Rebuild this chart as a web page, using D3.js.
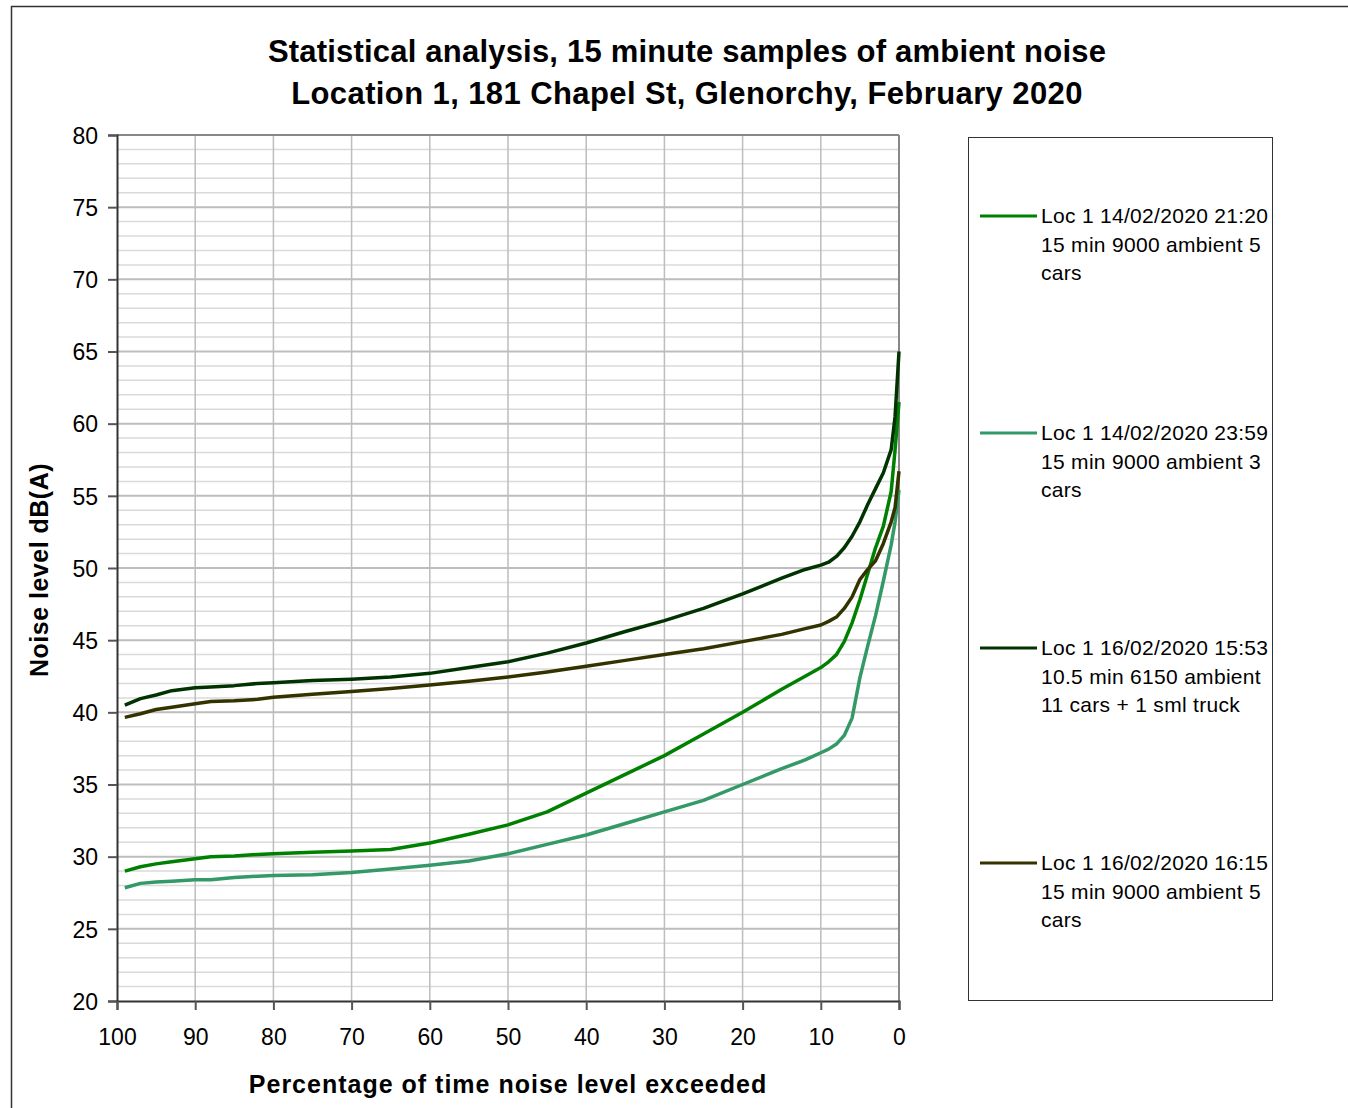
<!DOCTYPE html>
<html>
<head>
<meta charset="utf-8">
<script src="https://cdn.jsdelivr.net/npm/d3@7"></script>
<style>
  body { margin: 0; background: #fff; }
  svg { display: block; font-family: "Liberation Sans", Arial, sans-serif; }
</style>
</head>
<body>
<div id="chart"></div>
<script>
// percentage of time level exceeded
const pct = [99, 97, 95, 93, 90, 88, 85, 82, 80, 75, 70, 65, 60, 55, 50, 45, 40, 35, 30, 25, 20, 15, 12, 10, 9, 8, 7, 6, 5, 4, 3, 2, 1, 0.5, 0];

const loc1_2120 = [29.0, 29.3, 29.5, 29.65, 29.85, 30.0, 30.05, 30.15, 30.2, 30.3, 30.4, 30.5, 30.95, 31.55, 32.2, 33.1, 34.4, 35.7, 37.0, 38.5, 40.0, 41.6, 42.5, 43.1, 43.5, 44.0, 44.9, 46.2, 47.8, 49.6, 51.4, 52.9, 55.3, 58.2, 61.5];
const loc1_2359 = [27.85, 28.15, 28.25, 28.3, 28.4, 28.4, 28.55, 28.65, 28.7, 28.75, 28.9, 29.15, 29.4, 29.7, 30.2, 30.85, 31.5, 32.3, 33.1, 33.9, 35.0, 36.1, 36.7, 37.2, 37.45, 37.8, 38.4, 39.6, 42.4, 44.6, 46.7, 49.1, 51.6, 53.2, 55.4];
const loc1_1553 = [40.5, 40.95, 41.2, 41.5, 41.7, 41.75, 41.85, 42.0, 42.05, 42.2, 42.3, 42.45, 42.7, 43.1, 43.5, 44.1, 44.8, 45.6, 46.35, 47.2, 48.2, 49.3, 49.9, 50.2, 50.4, 50.8, 51.4, 52.2, 53.2, 54.4, 55.5, 56.6, 58.2, 60.5, 65.0];
const loc1_1615 = [39.65, 39.9, 40.2, 40.35, 40.6, 40.75, 40.8, 40.9, 41.05, 41.25, 41.45, 41.65, 41.9, 42.15, 42.45, 42.8, 43.2, 43.6, 44.0, 44.4, 44.9, 45.4, 45.8, 46.05, 46.3, 46.6, 47.2, 48.0, 49.2, 49.9, 50.5, 51.7, 53.2, 54.2, 56.7];

const seriesNames = [
  ["Loc 1 14/02/2020 21:20", "15 min 9000 ambient 5", "cars"],
  ["Loc 1 14/02/2020 23:59", "15 min 9000 ambient 3", "cars"],
  ["Loc 1 16/02/2020 15:53", "10.5 min 6150 ambient", "11 cars + 1 sml truck"],
  ["Loc 1 16/02/2020 16:15", "15 min 9000 ambient 5", "cars"]
];
const seriesColors = ["#008000", "#339966", "#003300", "#333300"];
const seriesValues = [loc1_2120, loc1_2359, loc1_1553, loc1_1615];

const xTicks = [100, 90, 80, 70, 60, 50, 40, 30, 20, 10, 0];
const yTicks = [20, 25, 30, 35, 40, 45, 50, 55, 60, 65, 70, 75, 80];

const W = 1348, H = 1108;
const svg = d3.select("#chart").append("svg")
  .attr("width", W).attr("height", H);

svg.append("rect")
  .attr("x", 11.5).attr("y", 6.5)
  .attr("width", W + 20).attr("height", H + 20)
  .attr("fill", "none").attr("stroke", "#333").attr("stroke-width", 1.5);

const plot = {left: 117, right: 899, top: 135, bottom: 1001};

const x = d3.scaleLinear().domain([100, 0]).range([plot.left, plot.right]);
const y = d3.scaleLinear().domain([20, 80]).range([plot.bottom, plot.top]);

// grid
const grid = svg.append("g");
grid.selectAll(".minor").data(d3.range(21, 80)).join("line")
  .attr("x1", plot.left).attr("x2", plot.right)
  .attr("y1", d => y(d)).attr("y2", d => y(d))
  .attr("stroke", d => d % 5 === 0 ? "#bdbdbd" : "#dadada")
  .attr("stroke-width", d => d % 5 === 0 ? 2 : 1.5);
grid.selectAll(".vert").data(xTicks.slice(1, -1)).join("line")
  .attr("x1", d => x(d)).attr("x2", d => x(d))
  .attr("y1", plot.top).attr("y2", plot.bottom)
  .attr("stroke", "#bdbdbd").attr("stroke-width", 1.5);
// top and right edges
grid.append("line")
  .attr("x1", plot.left).attr("x2", plot.right)
  .attr("y1", y(80)).attr("y2", y(80))
  .attr("stroke", "#888").attr("stroke-width", 2);
grid.append("line")
  .attr("x1", x(0)).attr("x2", x(0))
  .attr("y1", plot.top).attr("y2", plot.bottom)
  .attr("stroke", "#888").attr("stroke-width", 2);

// axes
const yAxis = svg.append("g")
  .attr("transform", `translate(${plot.left},0)`)
  .call(d3.axisLeft(y).tickValues(yTicks).tickSize(9).tickPadding(10));
const xAxis = svg.append("g")
  .attr("transform", `translate(0,${plot.bottom})`)
  .call(d3.axisBottom(x).tickValues(xTicks).tickSize(9).tickPadding(19));
[yAxis, xAxis].forEach(a => {
  a.select(".domain").attr("stroke", "#333").attr("stroke-width", 2);
  a.selectAll(".tick line").attr("stroke", "#555").attr("stroke-width", 2);
  a.selectAll(".tick text").attr("fill", "#000")
    .style("font-size", "23px").style("font-family", "'Liberation Sans', Arial, sans-serif");
});
yAxis.selectAll(".tick text").attr("dy", "0.36em");

// lines
const line = d3.line()
  .x((d, i) => x(pct[i]))
  .y(d => y(d));
svg.append("g").selectAll("path").data(seriesValues).join("path")
  .attr("d", d => line(d))
  .attr("fill", "none")
  .attr("stroke", (d, i) => seriesColors[i])
  .attr("stroke-width", 3.5)
  .attr("stroke-linejoin", "round");

// titles
svg.append("text")
  .attr("x", 687).attr("y", 62)
  .attr("text-anchor", "middle")
  .style("font-size", "31px").style("font-weight", "bold")
  .style("letter-spacing", "0.2px")
  .text("Statistical analysis, 15 minute samples of ambient noise");
svg.append("text")
  .attr("x", 687).attr("y", 104)
  .attr("text-anchor", "middle")
  .style("font-size", "31px").style("font-weight", "bold")
  .style("letter-spacing", "0.4px")
  .text("Location 1, 181 Chapel St, Glenorchy, February 2020");

svg.append("text")
  .attr("x", 508).attr("y", 1093)
  .attr("text-anchor", "middle")
  .style("font-size", "25px").style("font-weight", "bold")
  .style("letter-spacing", "1px")
  .text("Percentage of time noise level exceeded");

svg.append("text")
  .attr("transform", `translate(48,570) rotate(-90)`)
  .attr("text-anchor", "middle")
  .style("font-size", "25px").style("font-weight", "bold")
  .style("letter-spacing", "0.5px")
  .text("Noise level dB(A)");

// legend
const legend = svg.append("g");
legend.append("rect")
  .attr("x", 968.5).attr("y", 137.5)
  .attr("width", 304).attr("height", 863)
  .attr("fill", "#fff").attr("stroke", "#333").attr("stroke-width", 1);
const legendY = [216, 433, 648, 863];
seriesNames.forEach((lines, i) => {
  const g = legend.append("g").attr("transform", `translate(0,${legendY[i]})`);
  g.append("line")
    .attr("x1", 980).attr("x2", 1037)
    .attr("y1", 0).attr("y2", 0)
    .attr("stroke", seriesColors[i]).attr("stroke-width", 3);
  lines.forEach((t, j) => {
    g.append("text")
      .attr("x", 1041).attr("y", j * 28.5)
      .attr("dy", "0.35em")
      .style("font-size", "21px")
      .style("letter-spacing", "0.3px")
      .text(t);
  });
});
</script>
</body>
</html>
